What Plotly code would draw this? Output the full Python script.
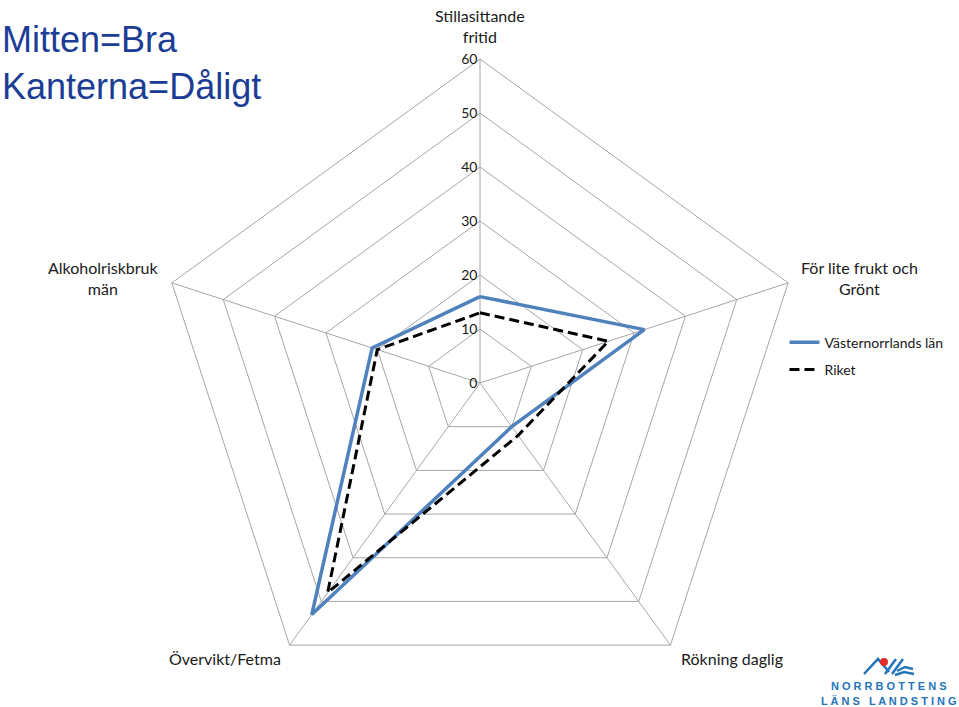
import math
import plotly.graph_objects as go

# ---- data ----
categories = ["Stillasittande fritid", "För lite frukt och Grönt", "Rökning daglig",
              "Övervikt/Fetma", "Alkoholriskbruk män"]
category_labels = ["Stillasittande<br>fritid", "För lite frukt och<br>Grönt", "Rökning daglig",
                   "Övervikt/Fetma", "Alkoholriskbruk<br>män"]
vasternorrland = [16, 32, 10, 53, 21]
riket = [13, 25, 12, 48, 20]
radial_ticks = [0, 10, 20, 30, 40, 50, 60]

W, H = 959, 707
FONT = "Lato"
GRID = "#A6A6A6"

fig = go.Figure()

def closed(v):
    return list(v) + [v[0]]

fig.add_trace(go.Scatterpolar(
    r=closed(vasternorrland), theta=closed(categories), mode="lines",
    name="Västernorrlands län", line=dict(color="#4F81BD", width=3.5),
    legendgroup="a"))
fig.add_trace(go.Scatterpolar(
    r=closed(riket), theta=closed(categories), mode="lines",
    name="Riket", line=dict(color="#000000", width=3, dash="10px,5px"),
    legendgroup="b"))

# polar placement (pixels)
R, CX, CY = 324, 480, 383
fig.update_layout(
    width=W, height=H,
    margin=dict(l=0, r=0, t=0, b=0),
    paper_bgcolor="white", plot_bgcolor="white",
    font=dict(family=FONT, color="#1a1a1a", size=14),
    polar=dict(
        domain=dict(x=[(CX - R) / W, (CX + R) / W], y=[(H - CY - R) / H, (H - CY + R) / H]),
        bgcolor="white",
        gridshape="linear",
        angularaxis=dict(
            direction="clockwise", rotation=90,
            categoryorder="array", categoryarray=categories,
            showticklabels=False,
            showline=True, linecolor=GRID, linewidth=1,
            gridcolor=GRID, gridwidth=1, ticks="",
        ),
        radialaxis=dict(
            range=[0, 60], tickmode="array", tickvals=radial_ticks,
            angle=90, side="counterclockwise", tickangle=90,
            showline=False, gridcolor=GRID, gridwidth=1, ticks="",
            tickfont=dict(family=FONT, size=14, color="#1a1a1a"),
        ),
    ),
    legend=dict(
        x=0.818, y=0.538, xanchor="left", yanchor="top",
        font=dict(family=FONT, size=14, color="#1a1a1a"),
        bgcolor="rgba(0,0,0,0)", tracegroupgap=6,
    ),
    showlegend=True,
)

# category labels as centred text next to each outer vertex
label_place = [  # (dx, dy, xanchor, yanchor) offsets from vertex in pixels
    (0, -12, "center", "bottom"),
    (12, -5, "left", "middle"),
    (10, 13, "left", "middle"),
    (-8, 13, "right", "middle"),
    (-12, -5, "right", "middle"),
]
n = len(categories)
for i, (lab, (dx, dy, xa, ya)) in enumerate(zip(category_labels, label_place)):
    ang = math.radians(90 - 360 * i / n)
    vx = CX + R * math.cos(ang)
    vy = CY - R * math.sin(ang)
    fig.add_annotation(
        text=lab, xref="paper", yref="paper",
        x=(vx + dx) / W, y=1 - (vy + dy) / H, xanchor=xa, yanchor=ya,
        align="center", showarrow=False, borderpad=0,
        font=dict(family=FONT, size=16, color="#1a1a1a"),
    )

# title text
fig.add_annotation(
    text="Mitten=Bra<br>Kanterna=Dåligt", xref="paper", yref="paper",
    x=0.0, y=1 - 17 / H, xanchor="left", yanchor="top", align="left", showarrow=False,
    font=dict(family="Liberation Sans, Arial", size=36, color="#1B3D95"),
)

# logo text
fig.add_annotation(
    text="<b>N O R R B O T T E N S</b>", xref="paper", yref="paper",
    x=889 / W, y=1 - 686 / H, xanchor="center", yanchor="middle", showarrow=False,
    font=dict(family="Liberation Sans", size=11, color="#2474BA"),
)
fig.add_annotation(
    text="<b>L Ä N S   L A N D S T I N G</b>", xref="paper", yref="paper",
    x=889 / W, y=1 - 701 / H, xanchor="center", yanchor="middle", showarrow=False,
    font=dict(family="Liberation Sans", size=11, color="#2474BA"),
)

def px(x, y):
    return x / W, 1 - y / H

def path(points):
    s = ""
    for i, (x, y) in enumerate(points):
        xx, yy = px(x, y)
        s += ("M" if i == 0 else "L") + f" {xx:.5f} {yy:.5f} "
    return s

logo_paths = [
    [(864, 674), (878, 659), (889, 672)],
    [(885, 674), (896, 659)],
    [(892, 674), (903, 659)],
    [(897, 671), (905, 667), (913, 669)],
    [(895, 675), (904, 672), (914, 674)],
]
for p in logo_paths:
    fig.add_shape(type="path", path=path(p), xref="paper", yref="paper",
                  line=dict(color="#2474BA", width=2.5))
x0, y0 = px(880, 658)
x1, y1 = px(888, 666)
fig.add_shape(type="circle", xref="paper", yref="paper", x0=x0, y0=y1, x1=x1, y1=y0,
              fillcolor="#E32B2B", line=dict(width=0))

fig.write_html("out.html")
